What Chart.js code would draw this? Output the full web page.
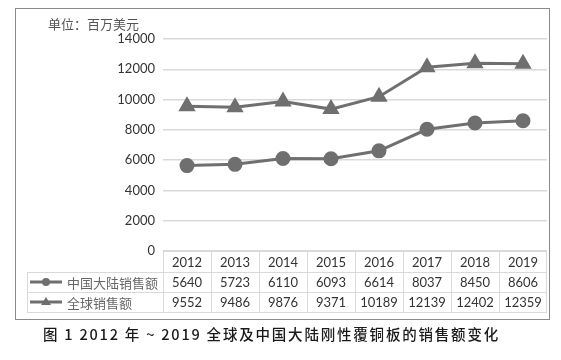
<!DOCTYPE html>
<html>
<head>
<meta charset="utf-8">
<script src="https://cdn.jsdelivr.net/npm/chart.js@4/dist/chart.umd.min.js"></script>
<style>
  html, body { margin: 0; padding: 0; background: #ffffff; }
  #wrap { position: relative; width: 561px; height: 360px; }
  canvas { position: absolute; left: 0; top: 0; }
  #caption {
    position: absolute; left: 43px; top: 323px; text-align: left;
    font-family: "Noto Sans CJK SC", "Noto Sans", sans-serif; font-size: 14.5px;
    font-weight: 500; letter-spacing: 1.8px; color: #1a1a1a; white-space: nowrap;
  }
  #unit {
    position: absolute; left: 48px; top: 14px;
    font-family: "Noto Sans CJK SC", sans-serif; font-size: 13px; color: #555;
  }
</style>
</head>
<body>
<div id="wrap">
  <canvas id="c" width="561" height="360"></canvas>
  <div id="unit">单位：百万美元</div>
  <div id="caption">图 1 2012 年 ~ 2019 全球及中国大陆刚性覆铜板的销售额变化</div>
</div>
<script>
const years = ["2012", "2013", "2014", "2015", "2016", "2017", "2018", "2019"];
const chinaSales = [5640, 5723, 6110, 6093, 6614, 8037, 8450, 8606];
const globalSales = [9552, 9486, 9876, 9371, 10189, 12139, 12402, 12359];
const seriesNames = ["中国大陆销售额", "全球销售额"];
const yTicks = [0, 2000, 4000, 6000, 8000, 10000, 12000, 14000];

const lineColor = "#6f6f6f";
const gridColor = "#d9d9d9";
const numFont = "'Lato', 'Liberation Sans', sans-serif";

const tablePlugin = {
  id: "dataTable",
  afterDraw(chart) {
    const ctx = chart.ctx;
    const xs = chart.scales.x;
    const area = chart.chartArea;
    const n = years.length;
    const colW = (area.right - area.left) / n;
    const top = area.bottom;
    const rows = [top, top + 21, top + 41, top + 61];
    const legendLeft = 27;

    ctx.save();
    ctx.strokeStyle = "#8a8a8a";
    ctx.lineWidth = 1;
    ctx.strokeRect(15.5, 8.5, 534, 311);

    ctx.strokeStyle = gridColor;
    ctx.lineWidth = 1;
    ctx.beginPath();
    ctx.moveTo(area.left, rows[0] + 0.5); ctx.lineTo(area.right, rows[0] + 0.5);
    for (let r = 1; r < rows.length; r++) {
      ctx.moveTo(legendLeft, rows[r] + 0.5); ctx.lineTo(area.right, rows[r] + 0.5);
    }
    for (let i = 0; i <= n; i++) {
      const x = Math.round(xs.getPixelForValue(i) - colW / 2) + 0.5;
      const xx = i === n ? Math.round(xs.getPixelForValue(n - 1) + colW / 2) - 0.5 : x;
      ctx.moveTo(xx, rows[0]); ctx.lineTo(xx, rows[3]);
    }
    ctx.moveTo(legendLeft + 0.5, rows[1]); ctx.lineTo(legendLeft + 0.5, rows[3]);
    ctx.stroke();

    ctx.fillStyle = "#333";
    ctx.font = "13px " + numFont;
    ctx.textAlign = "center";
    ctx.textBaseline = "middle";
    const data = [years, chinaSales, globalSales];
    for (let r = 0; r < 3; r++) {
      const cy = (rows[r] + rows[r + 1]) / 2 + 1;
      for (let i = 0; i < n; i++) {
        ctx.fillText(String(data[r][i]), xs.getPixelForValue(i), cy);
      }
    }

    for (let s = 0; s < 2; s++) {
      const cy = (rows[s + 1] + rows[s + 2]) / 2;
      ctx.strokeStyle = lineColor;
      ctx.fillStyle = lineColor;
      ctx.lineWidth = 3;
      ctx.beginPath();
      ctx.moveTo(30, cy); ctx.lineTo(62, cy);
      ctx.stroke();
      ctx.beginPath();
      if (s === 0) {
        ctx.arc(46, cy, 4, 0, Math.PI * 2);
      } else {
        ctx.moveTo(46, cy - 5); ctx.lineTo(51, cy + 3); ctx.lineTo(41, cy + 3); ctx.closePath();
      }
      ctx.fill();
      ctx.fillStyle = "#666";
      ctx.font = "13px 'Noto Sans CJK SC', sans-serif";
      ctx.textAlign = "left";
      ctx.fillText(seriesNames[s], 67, cy + 1);
    }
    ctx.restore();
  }
};

new Chart(document.getElementById("c"), {
  type: "line",
  data: {
    labels: years,
    datasets: [
      {
        label: seriesNames[0], data: chinaSales,
        borderColor: lineColor, backgroundColor: lineColor, borderWidth: 3,
        pointStyle: "circle", pointRadius: 6, pointHoverRadius: 6, tension: 0
      },
      {
        label: seriesNames[1], data: globalSales,
        borderColor: lineColor, backgroundColor: lineColor, borderWidth: 3,
        pointStyle: "triangle", pointRadius: 7, pointHoverRadius: 7, tension: 0
      }
    ]
  },
  options: {
    responsive: false,
    devicePixelRatio: 1,
    animation: false,
    layout: { padding: { left: 0, top: 39, right: 14, bottom: 109 } },
    plugins: { legend: { display: false }, tooltip: { enabled: false }, title: { display: false } },
    scales: {
      x: { display: false, offset: true, grid: { offset: true } },
      y: {
        min: 0, max: 14000,
        afterBuildTicks(scale) { scale.ticks = yTicks.map(v => ({ value: v })); },
        afterFit(scale) { scale.width = 163; },
        ticks: {
          color: "#333", font: { size: 13, family: numFont }, padding: 8,
          callback: (v) => String(v)
        },
        grid: { color: gridColor, drawTicks: false, lineWidth: 1.5 },
        border: { display: false }
      }
    }
  },
  plugins: [tablePlugin]
});
</script>
</body>
</html>
